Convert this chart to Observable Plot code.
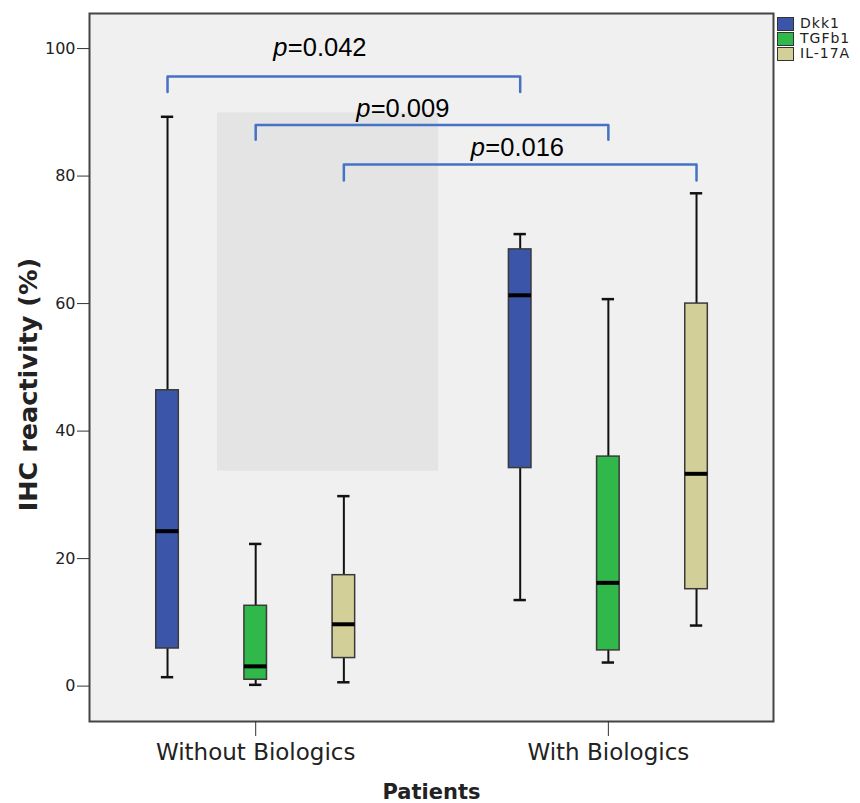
<!DOCTYPE html>
<html>
<head>
<meta charset="utf-8">
<script src="https://cdn.jsdelivr.net/npm/d3@7"></script>
<script src="https://cdn.jsdelivr.net/npm/@observablehq/plot@0.6"></script>
<style>
  html, body { margin: 0; padding: 0; background: #fff; }
  #wrap { position: relative; width: 860px; height: 803px; }
  #legend { position: absolute; left: 777px; top: 16px; font-family: "DejaVu Sans", sans-serif; font-size: 14px; line-height: 15px; color: #222; }
  .row { display: flex; align-items: center; height: 15px; overflow: visible; }
  .sw { width: 15px; height: 12px; border: 1px solid #333; margin-right: 6px; flex: none; }
  .lab { letter-spacing: 1px; line-height: 15px; white-space: nowrap; }
</style>
</head>
<body>
<div id="wrap"><div id="legend"></div></div>
<script>
// ---- data ----
const groups = ["Without Biologics", "With Biologics"];
const series = ["Dkk1", "TGFb1", "IL-17A"];
const colors = ["#3b55a9", "#31b84b", "#d3cf98"];
// per group: values for [Dkk1, TGFb1, IL-17A]
const whiskerLow  = [[1.4, 0.2, 0.6],   [13.5, 3.7, 9.5]];
const q1          = [[5.9, 1.0, 4.4],   [34.2, 5.6, 15.2]];
const median      = [[24.3, 3.1, 9.7],  [61.3, 16.2, 33.3]];
const q3          = [[46.4, 12.6, 17.4],[68.5, 36.0, 60.0]];
const whiskerHigh = [[89.3, 22.3, 29.8],[70.9, 60.7, 77.3]];
const yTicks = [0, 20, 40, 60, 80, 100];
// significance brackets: compare same series across groups
const bracketSeries = ["Dkk1", "TGFb1", "IL-17A"];
const bracketTop    = [95.6, 88.0, 81.8];
const bracketLeg    = [93.2, 85.7, 79.3];
const pValues       = ["0.042", "0.009", "0.016"];
const pLabelLeft    = [1.20, 2.14, 3.44];   // slot units
const pLabelBase    = [98.9, 89.3, 83.1];
// light grey overlay patch in the reference
const shade = [{x1: 0.567, x2: 3.074, y1: 33.7, y2: 89.9}];

// ---- build table ----
const slot = (g, s) => g * (series.length + 1) + s;
const rows = [];
groups.forEach((g, gi) => series.forEach((s, si) => rows.push({
  group: g, series: s, x: slot(gi, si),
  lo: whiskerLow[gi][si], q1: q1[gi][si], med: median[gi][si], q3: q3[gi][si], hi: whiskerHigh[gi][si]
})));
const hw = 0.128, cap = 0.07;
const brackets = [];
bracketSeries.forEach((s, i) => {
  const si = series.indexOf(s);
  const a = slot(0, si), b = slot(1, si);
  [[a, bracketLeg[i]], [a, bracketTop[i]], [b, bracketTop[i]], [b, bracketLeg[i]]]
    .forEach(([x, y]) => brackets.push({id: i, x, y}));
});
const pLabels = pValues.map((v, i) => ({x: pLabelLeft[i], y: pLabelBase[i], v: "=" + v}));
const groupTicks = groups.map((g, gi) => slot(gi, 1));

const plot = Plot.plot({
  width: 860, height: 803,
  marginLeft: 89, marginRight: 87, marginTop: 13, marginBottom: 82,
  style: {fontFamily: "DejaVu Sans, sans-serif", background: "transparent", color: "#222"},
  x: {domain: [-0.885, 6.873], axis: null},
  y: {domain: [-5.55, 105.5], axis: null},
  color: {domain: series, range: colors},
  marks: [
    Plot.frame({fill: "#f0f0f0", stroke: "none"}),
    Plot.rect(shade, {x1: "x1", x2: "x2", y1: "y1", y2: "y2", fill: "#e4e4e4"}),
    Plot.ruleX(rows, {x: "x", y1: "lo", y2: "hi", stroke: "#111", strokeWidth: 2}),
    Plot.ruleY(rows, {y: "lo", x1: d => d.x - cap, x2: d => d.x + cap, stroke: "#111", strokeWidth: 2.5}),
    Plot.ruleY(rows, {y: "hi", x1: d => d.x - cap, x2: d => d.x + cap, stroke: "#111", strokeWidth: 2.5}),
    Plot.rect(rows, {x1: d => d.x - hw, x2: d => d.x + hw, y1: "q1", y2: "q3", fill: "series", stroke: "#3a3a3a", strokeWidth: 1.5}),
    Plot.ruleY(rows, {y: "med", x1: d => d.x - hw, x2: d => d.x + hw, stroke: "#000", strokeWidth: 4}),
    Plot.line(brackets, {x: "x", y: "y", z: "id", stroke: "#4472c4", strokeWidth: 2.5, strokeLinejoin: "round", curve: "linear"}),
    Plot.text(pLabels, {x: "x", y: "y", text: () => "p", textAnchor: "start", lineAnchor: "bottom", fontSize: 25.5, fontStyle: "italic", fontFamily: "Liberation Sans, Arial, sans-serif", fill: "#000"}),
    Plot.text(pLabels, {x: "x", y: "y", text: "v", textAnchor: "start", lineAnchor: "bottom", dx: 14.5, fontSize: 25.5, fontFamily: "Liberation Sans, Arial, sans-serif", fill: "#000"}),
    Plot.frame({stroke: "#444", strokeWidth: 2}),
    Plot.axisY({ticks: yTicks, tickSize: 12, tickPadding: 2, fontSize: 16, label: null, stroke: "#333"}),
    Plot.axisX({ticks: groupTicks, tickFormat: t => groups[groupTicks.indexOf(t)], tickSize: 15, tickPadding: 7, fontSize: 23, label: null, stroke: "#333"}),
    Plot.text(["IHC reactivity (%)"], {frameAnchor: "left", text: d => d, rotate: -90, textAnchor: "middle", lineAnchor: "middle", dx: -61, dy: 17, fontSize: 25.5, fontWeight: "bold", fill: "#222"}),
    Plot.text(["Patients"], {frameAnchor: "bottom", text: d => d, textAnchor: "middle", lineAnchor: "middle", dy: 71, fontSize: 21, fontWeight: "bold", fill: "#222"})
  ]
});
document.getElementById("wrap").prepend(plot);

const legend = document.getElementById("legend");
series.forEach((s, i) => {
  const r = document.createElement("div"); r.className = "row";
  const sw = document.createElement("div"); sw.className = "sw"; sw.style.background = colors[i];
  const l = document.createElement("span"); l.className = "lab"; l.textContent = s;
  r.append(sw, l); legend.append(r);
});
</script>
</body>
</html>
